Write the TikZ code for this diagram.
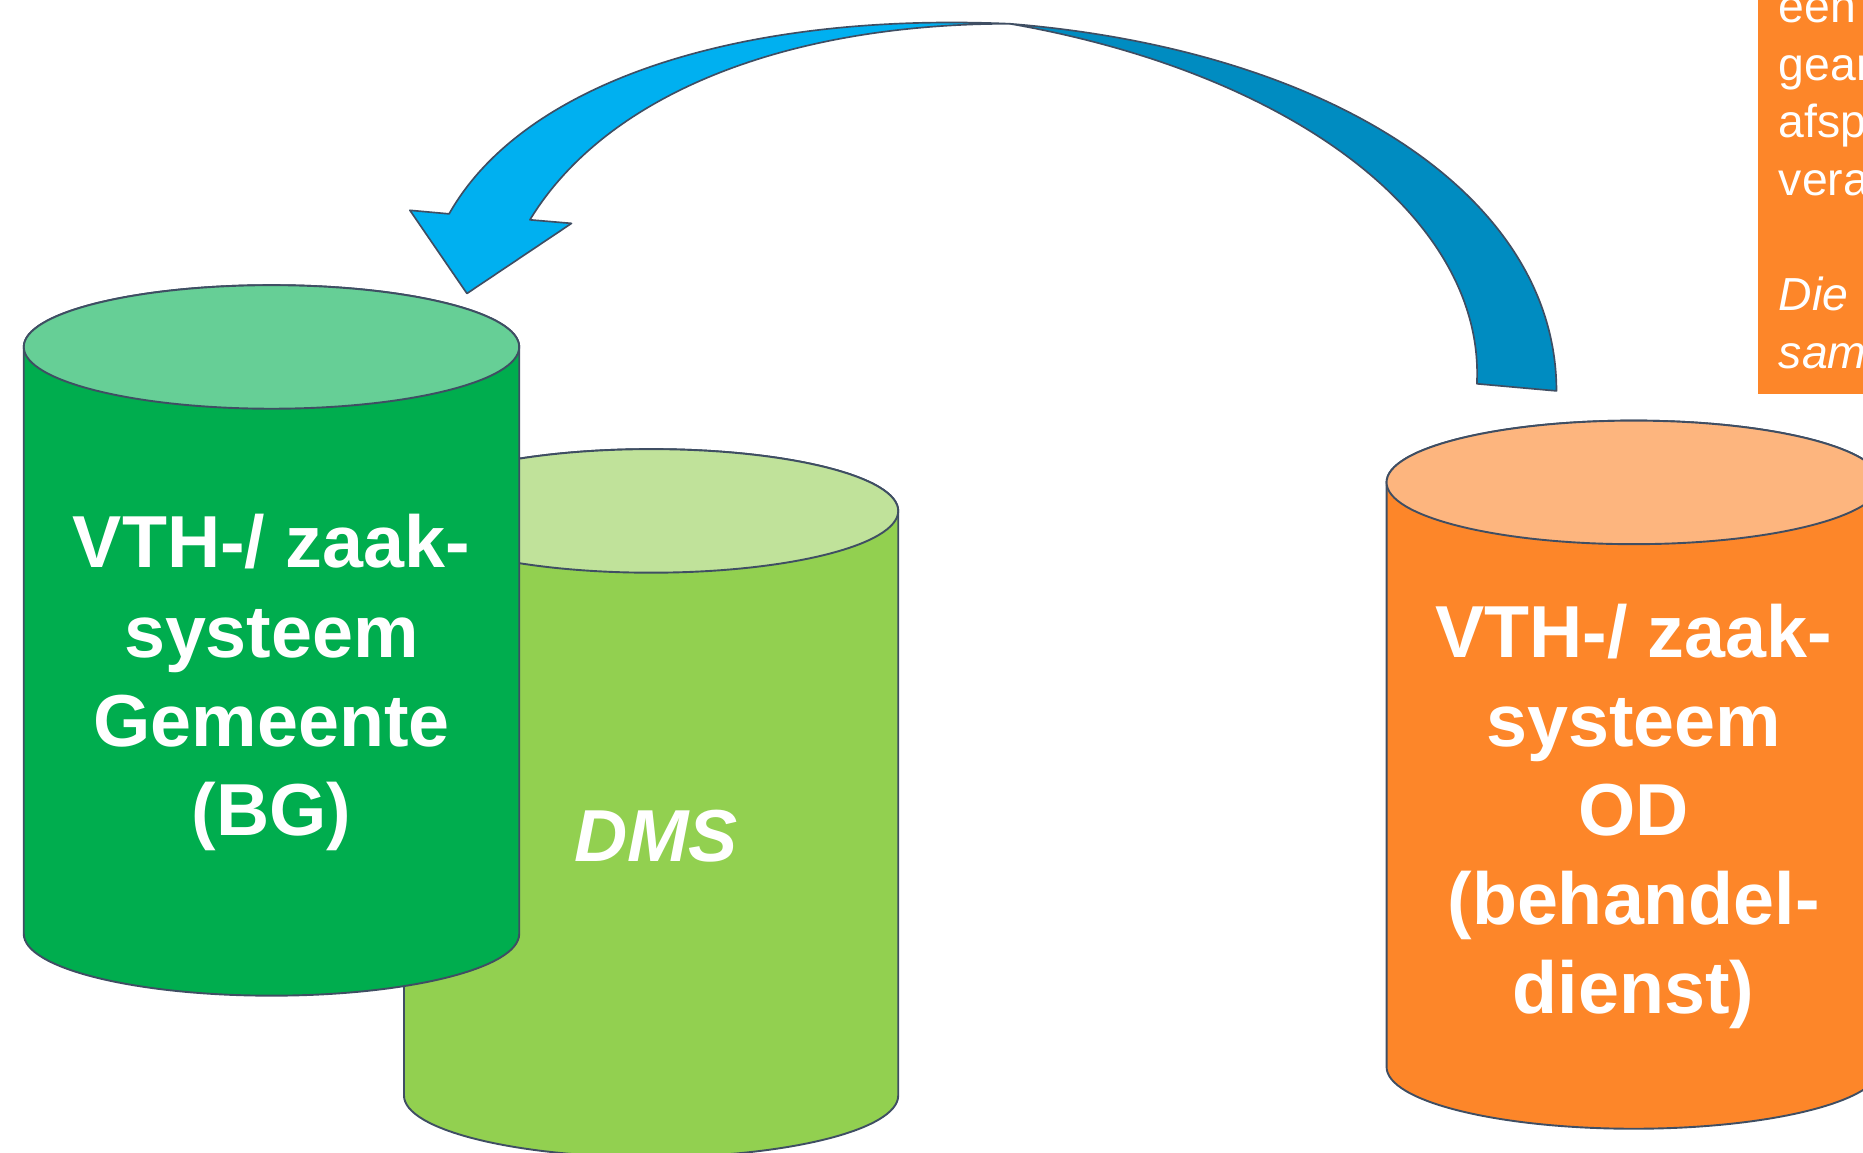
\documentclass[tikz,border=0pt]{standalone}
\usepackage{fontspec}
\setmainfont{Liberation Sans}
\definecolor{edge}{HTML}{3F4E63}
\definecolor{bgbody}{HTML}{00AD4E}
\definecolor{bgtop}{HTML}{66CF96}
\definecolor{dmsbody}{HTML}{92D050}
\definecolor{dmstop}{HTML}{C0E29A}
\definecolor{odbody}{HTML}{FD8629}
\definecolor{odtop}{HTML}{FDB57E}
\definecolor{arrowlight}{HTML}{00B0F0}
\definecolor{arrowdark}{HTML}{008CC1}
\tikzset{
  cylline/.style={draw=edge, line width=1.6pt},
  bigtext/.style={text=white, font=\fontsize{62}{75}\selectfont\bfseries, align=center, inner sep=0pt},
  boxtext/.style={text=white, font=\fontsize{39}{48.5}\selectfont, align=left, inner sep=0pt, anchor=base west},
  arrowpart/.style={draw=edge, line width=1.4pt, line join=round},
}
\begin{document}
\begin{tikzpicture}[x=1pt,y=-1pt]
\useasboundingbox (0,0) rectangle (1568,970);
\clip (0,0) rectangle (1568,970);
% DMS cylinder (behind)
\path[cylline, fill=dmsbody] (340,430) -- (340,922) arc[start angle=180, end angle=360, x radius=208pt, y radius=52pt] -- (756,430) arc[start angle=0, end angle=180, x radius=208pt, y radius=52pt] -- cycle;
\path[cylline, fill=dmstop] (548,430) ellipse[x radius=208pt, y radius=52pt];
\node[bigtext, font=\fontsize{62}{75}\selectfont\bfseries\itshape, anchor=base] (dms) at (552,725) {DMS};
% BG cylinder
\path[cylline, fill=bgbody] (20,292) -- (20,786) arc[start angle=180, end angle=360, x radius=208.5pt, y radius=52pt] -- (437,292) arc[start angle=0, end angle=180, x radius=208.5pt, y radius=52pt] -- cycle;
\path[cylline, fill=bgtop] (228.5,292) ellipse[x radius=208.5pt, y radius=52pt];
\node[bigtext, anchor=base] (bg) at (228.5,703) {VTH-/ zaak-\\systeem\\Gemeente\\(BG)};
% OD cylinder
\path[cylline, fill=odbody] (1167,406) -- (1167,898) arc[start angle=180, end angle=360, x radius=208pt, y radius=52pt] -- (1583,406) arc[start angle=0, end angle=180, x radius=208pt, y radius=52pt] -- cycle;
\path[cylline, fill=odtop] (1375,406) ellipse[x radius=208pt, y radius=52pt];
\node[bigtext, anchor=base] (od) at (1375,853) {VTH-/ zaak-\\systeem\\OD\\(behandel-\\dienst)};
% orange text box
\path[fill=odbody] (1480,-10) rectangle (1600,332);
\node[boxtext] (note) at (1497,310) {een\\gear\\afsp\\vera\\[48.5pt]\itshape Die\\\itshape sam};
% curved arrow
\coordinate (twist) at (850,20);
\path[arrowpart, fill=arrowdark] (twist) .. controls (1120,42) and (1310,165) .. (1310,329) -- (1243,323) .. controls (1250,185) and (1090,62) .. (twist) -- cycle;
\path[arrowpart, fill=arrowlight] (378,180) .. controls (440,70) and (620,10) .. (twist) .. controls (660,20) and (510,80) .. (446,185) -- (481,188) -- (393,247) -- (345,177) -- cycle;
\end{tikzpicture}
\end{document}
